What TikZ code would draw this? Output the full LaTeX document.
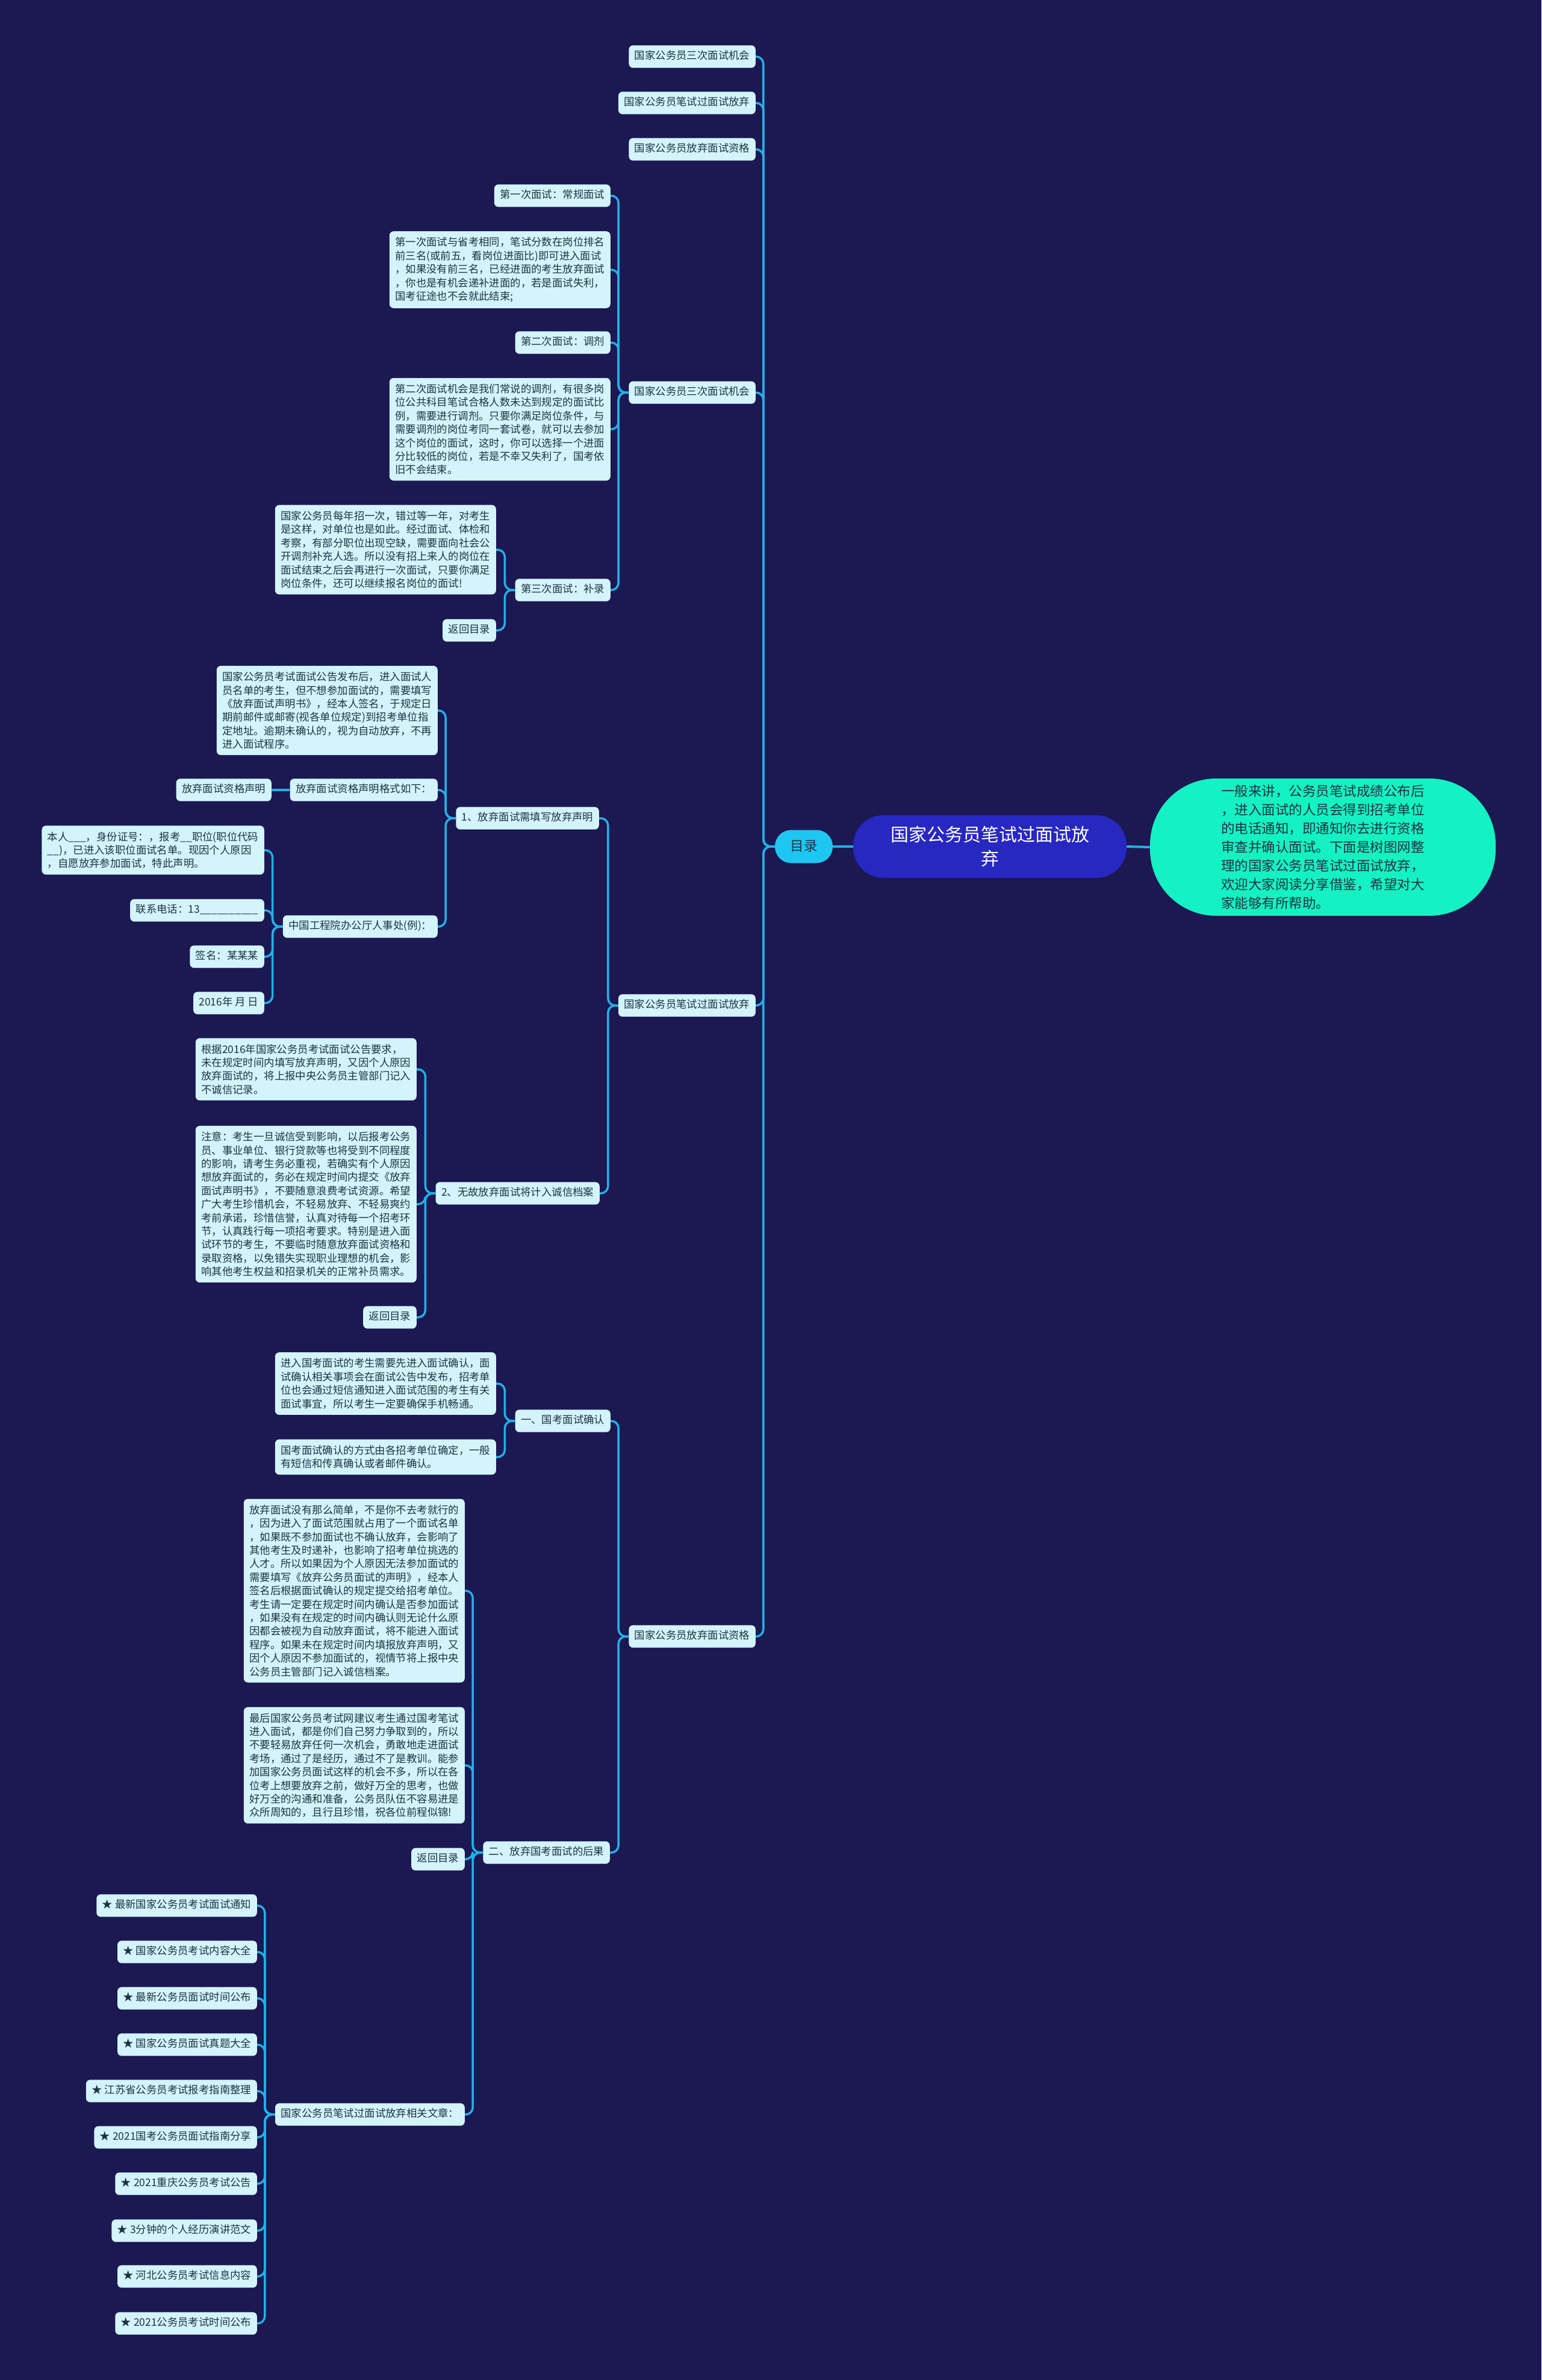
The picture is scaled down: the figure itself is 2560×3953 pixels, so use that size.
\documentclass[tikz,border=0pt]{standalone}
\usepackage{fontspec}
\setmainfont{Noto Sans CJK SC}
\definecolor{bg}{HTML}{1B1852}
\definecolor{nodefill}{HTML}{D3F4FB}
\definecolor{nodetext}{HTML}{1E3340}
\definecolor{linec}{HTML}{22B0E6}
\definecolor{rootfill}{HTML}{2727C2}
\definecolor{mulufill}{HTML}{1EC6F2}
\definecolor{descfill}{HTML}{14F2C4}
\begin{document}
\begin{tikzpicture}[x=1pt,y=-1pt,
  nbox/.style={fill=nodefill, rounded corners=7pt, text=nodetext, font=\fontsize{17.4}{22.4}\selectfont, inner xsep=9.5pt, inner ysep=10pt, anchor=east},
  nlab/.style={nbox, text height=13.6pt, text depth=3.8pt},
  npara/.style={nbox, align=left},
  conn/.style={draw=linec, line width=3.5pt, rounded corners=12pt},
]
\useasboundingbox (0,0) rectangle (2560,3953);
\fill[bg] (0,0) rectangle (2560,3953);

% centre
\node[fill=rootfill, rounded corners=50pt, minimum width=454pt, minimum height=104pt, text=white, align=center, font=\fontsize{30}{40}\selectfont, inner sep=0pt] (root) at (1644,1406) {国家公务员笔试过面试放\\弃};
\node[fill=descfill, rounded corners=110pt, minimum width=574pt, minimum height=228pt, text=nodetext, align=left, font=\fontsize{22.5}{31}\selectfont, inner sep=0pt] (desc) at (2197,1407) {一般来讲，公务员笔试成绩公布后\\，进入面试的人员会得到招考单位\\的电话通知，即通知你去进行资格\\审查并确认面试。下面是树图网整\\理的国家公务员笔试过面试放弃，\\欢迎大家阅读分享借鉴，希望对大\\家能够有所帮助。};
\node[fill=mulufill, rounded corners=27pt, minimum width=96pt, minimum height=55pt, text=nodetext, font=\fontsize{22.5}{28}\selectfont, inner sep=0pt] (mulu) at (1335,1406) {目录};

% level 1
\node[nlab] (t1) at (1255,94) {国家公务员三次面试机会};
\node[nlab] (t2) at (1255,171) {国家公务员笔试过面试放弃};
\node[nlab] (t3) at (1255,248) {国家公务员放弃面试资格};
\node[nlab] (A) at (1255,652) {国家公务员三次面试机会};
\node[nlab] (B) at (1255,1670) {国家公务员笔试过面试放弃};
\node[nlab] (C) at (1255,2718) {国家公务员放弃面试资格};

% A branch
\node[nlab] (a1) at (1014,325) {第一次面试：常规面试};
\node[npara] (a1t) at (1014,448) {第一次面试与省考相同，笔试分数在岗位排名\\前三名(或前五，看岗位进面比)即可进入面试\\，如果没有前三名，已经进面的考生放弃面试\\，你也是有机会递补进面的，若是面试失利，\\国考征途也不会就此结束;};
\node[nlab] (a2) at (1014,569) {第二次面试：调剂};
\node[npara] (a2t) at (1014,713) {第二次面试机会是我们常说的调剂，有很多岗\\位公共科目笔试合格人数未达到规定的面试比\\例，需要进行调剂。只要你满足岗位条件，与\\需要调剂的岗位考同一套试卷，就可以去参加\\这个岗位的面试，这时，你可以选择一个进面\\分比较低的岗位，若是不幸又失利了，国考依\\旧不会结束。};
\node[nlab] (a3) at (1014,980) {第三次面试：补录};
\node[npara] (a3t) at (824,913) {国家公务员每年招一次，错过等一年，对考生\\是这样，对单位也是如此。经过面试、体检和\\考察，有部分职位出现空缺，需要面向社会公\\开调剂补充人选。所以没有招上来人的岗位在\\面试结束之后会再进行一次面试，只要你满足\\岗位条件，还可以继续报名岗位的面试!};
\node[nlab] (a3r) at (824,1047) {返回目录};

% B branch
\node[nlab] (b1) at (995,1359) {1、放弃面试需填写放弃声明};
\node[npara] (b1t) at (727,1180) {国家公务员考试面试公告发布后，进入面试人\\员名单的考生，但不想参加面试的，需要填写\\《放弃面试声明书》，经本人签名，于规定日\\期前邮件或邮寄(视各单位规定)到招考单位指\\定地址。逾期未确认的，视为自动放弃，不再\\进入面试程序。};
\node[nlab] (b1f) at (727,1312) {放弃面试资格声明格式如下：};
\node[nlab] (b1fs) at (451,1312) {放弃面试资格声明};
\node[nlab] (b1c) at (727,1539) {中国工程院办公厅人事处(例)：};
\node[npara] (c1) at (439,1412) {本人\_\_\_，身份证号：，报考\_\_职位(职位代码\\\_\_)，已进入该职位面试名单。现因个人原因\\，自愿放弃参加面试，特此声明。};
\node[nlab] (c2) at (439,1512) {联系电话：13\_\_\_\_\_\_\_\_\_\_};
\node[nlab] (c3) at (439,1589) {签名：某某某};
\node[nlab] (c4) at (439,1666) {2016年 月 日};
\node[nlab] (b2) at (996,1982) {2、无故放弃面试将计入诚信档案};
\node[npara] (b2t1) at (692,1776) {根据2016年国家公务员考试面试公告要求，\\未在规定时间内填写放弃声明，又因个人原因\\放弃面试的，将上报中央公务员主管部门记入\\不诚信记录。};
\node[npara] (b2t2) at (692,2000) {注意：考生一旦诚信受到影响，以后报考公务\\员、事业单位、银行贷款等也将受到不同程度\\的影响，请考生务必重视，若确实有个人原因\\想放弃面试的，务必在规定时间内提交《放弃\\面试声明书》，不要随意浪费考试资源。希望\\广大考生珍惜机会，不轻易放弃、不轻易爽约\\考前承诺，珍惜信誉，认真对待每一个招考环\\节，认真践行每一项招考要求。特别是进入面\\试环节的考生，不要临时随意放弃面试资格和\\录取资格，以免错失实现职业理想的机会，影\\响其他考生权益和招录机关的正常补员需求。};
\node[nlab] (b2r) at (692,2188) {返回目录};

% C branch
\node[nlab] (C1) at (1014,2360) {一、国考面试确认};
\node[npara] (C1t1) at (824,2298) {进入国考面试的考生需要先进入面试确认，面\\试确认相关事项会在面试公告中发布，招考单\\位也会通过短信通知进入面试范围的考生有关\\面试事宜，所以考生一定要确保手机畅通。};
\node[npara] (C1t2) at (824,2420) {国考面试确认的方式由各招考单位确定，一般\\有短信和传真确认或者邮件确认。};
\node[nlab] (C2) at (1013,3077) {二、放弃国考面试的后果};
\node[npara] (C2t1) at (772,2642) {放弃面试没有那么简单，不是你不去考就行的\\，因为进入了面试范围就占用了一个面试名单\\，如果既不参加面试也不确认放弃，会影响了\\其他考生及时递补，也影响了招考单位挑选的\\人才。所以如果因为个人原因无法参加面试的\\需要填写《放弃公务员面试的声明》，经本人\\签名后根据面试确认的规定提交给招考单位。\\考生请一定要在规定时间内确认是否参加面试\\，如果没有在规定的时间内确认则无论什么原\\因都会被视为自动放弃面试，将不能进入面试\\程序。如果未在规定时间内填报放弃声明，又\\因个人原因不参加面试的，视情节将上报中央\\公务员主管部门记入诚信档案。};
\node[npara] (C2t2) at (772,2932) {最后国家公务员考试网建议考生通过国考笔试\\进入面试，都是你们自己努力争取到的，所以\\不要轻易放弃任何一次机会，勇敢地走进面试\\考场，通过了是经历，通过不了是教训。能参\\加国家公务员面试这样的机会不多，所以在各\\位考上想要放弃之前，做好万全的思考，也做\\好万全的沟通和准备，公务员队伍不容易进是\\众所周知的，且行且珍惜，祝各位前程似锦!};
\node[nlab] (C2r) at (772,3088) {返回目录};
\node[nlab] (C2a) at (772,3512) {国家公务员笔试过面试放弃相关文章：};
\node[nlab] (s1) at (427,3165) {★ 最新国家公务员考试面试通知};
\node[nlab] (s2) at (427,3242) {★ 国家公务员考试内容大全};
\node[nlab] (s3) at (427,3319) {★ 最新公务员面试时间公布};
\node[nlab] (s4) at (427,3396) {★ 国家公务员面试真题大全};
\node[nlab] (s5) at (427,3473) {★ 江苏省公务员考试报考指南整理};
\node[nlab] (s6) at (427,3550) {★ 2021国考公务员面试指南分享};
\node[nlab] (s7) at (427,3627) {★ 2021重庆公务员考试公告};
\node[nlab] (s8) at (427,3705) {★ 3分钟的个人经历演讲范文};
\node[nlab] (s9) at (427,3781) {★ 河北公务员考试信息内容};
\node[nlab] (s10) at (427,3859) {★ 2021公务员考试时间公布};

% connectors
\draw[conn, line width=4pt] (mulu.east) -- (root.west);
\draw[conn, line width=4pt] (root.east) -- (desc.west);
\foreach \c in {t1,t2,t3,A,B,C}
  \draw[conn] (mulu.west) -- ++(-19,0) |- (\c.east);
\foreach \c in {a1,a1t,a2,a2t,a3}
  \draw[conn] (A.west) -- ++(-17,0) |- (\c.east);
\foreach \c in {a3t,a3r}
  \draw[conn] (a3.west) -- ++(-17,0) |- (\c.east);
\foreach \c in {b1,b2}
  \draw[conn] (B.west) -- ++(-17,0) |- (\c.east);
\foreach \c in {b1t,b1f,b1c}
  \draw[conn] (b1.west) -- ++(-17,0) |- (\c.east);
\draw[conn] (b1f.west) -- (b1fs.east);
\foreach \c in {c1,c2,c3,c4}
  \draw[conn] (b1c.west) -- ++(-17,0) |- (\c.east);
\foreach \c in {b2t1,b2t2,b2r}
  \draw[conn] (b2.west) -- ++(-17,0) |- (\c.east);
\foreach \c in {C1,C2}
  \draw[conn] (C.west) -- ++(-17,0) |- (\c.east);
\foreach \c in {C1t1,C1t2}
  \draw[conn] (C1.west) -- ++(-17,0) |- (\c.east);
\foreach \c in {C2t1,C2t2,C2r,C2a}
  \draw[conn] (C2.west) -- ++(-17,0) |- (\c.east);
\foreach \c in {s1,s2,s3,s4,s5,s6,s7,s8,s9,s10}
  \draw[conn] (C2a.west) -- ++(-17,0) |- (\c.east);
\end{tikzpicture}
\end{document}
